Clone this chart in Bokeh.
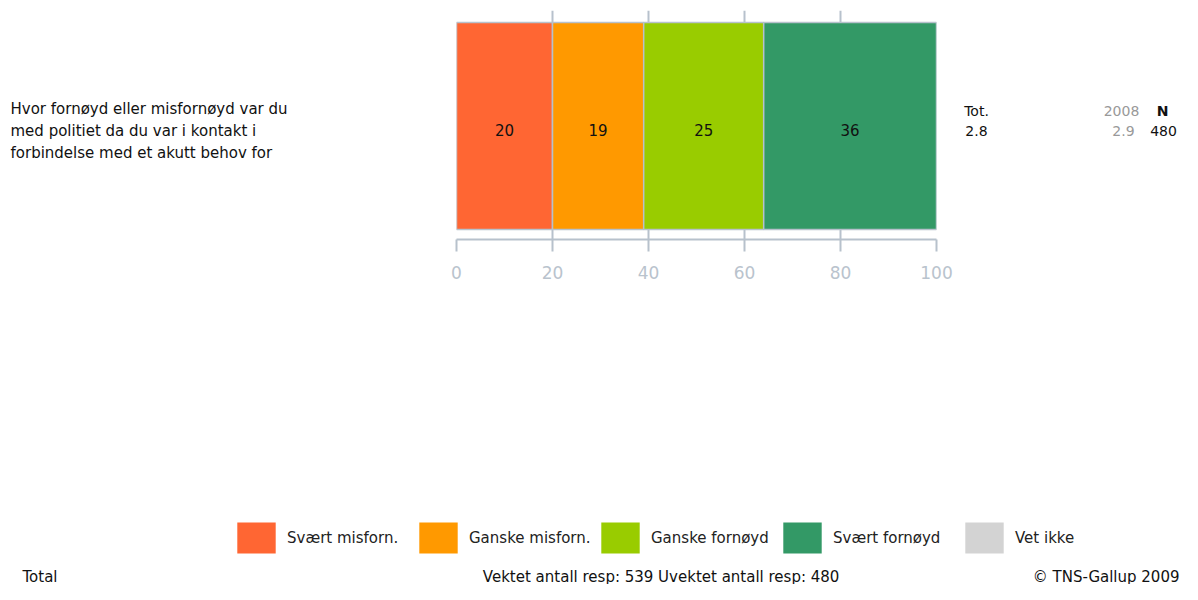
from bokeh.plotting import figure
from bokeh.models import Range1d, Legend, LegendItem, FixedTicker
from bokeh.layouts import row, column
from bokeh.core.properties import value
from bokeh.embed import file_html
from bokeh.resources import INLINE

# ---- data ----
categories = ["Svært misforn.", "Ganske misforn.", "Ganske fornøyd", "Svært fornøyd", "Vet ikke"]
values = [20, 19, 25, 36, 0]
colors = ["#FF6633", "#FF9900", "#99CC00", "#339966", "#D3D3D3"]
question_lines = ["Hvor fornøyd eller misfornøyd var du",
                  "med politiet da du var i kontakt i",
                  "forbindelse med et akutt behov for"]
x_ticks = [0, 20, 40, 60, 80, 100]
tot_header, tot_value = "Tot.", "2.8"
prev_header, prev_value = "2008", "2.9"
n_header, n_value = "N", "480"
footer_left = "Total"
footer_center = "Vektet antall resp: 539  Uvektet antall resp: 480"
footer_right = "© TNS-Gallup 2009"

# ---- layout constants (pixels) ----
W, H = 1182, 584
TOP_H = 290
FONT = "DejaVu Sans"
AXIS_COLOR = "#B7C1CC"
Q_W = 446                 # question panel width
CH_L, CH_R = 10, 20       # chart side borders
FRAME_W = 480
FRAME_TOP, FRAME_BOT = 10, 239
BAR_TOP, BAR_BOT = 22, 229
CH_W = CH_L + FRAME_W + CH_R
ST_X0 = Q_W + CH_W
N_SHIFT = -10             # N column nudged left to fit the canvas


def text_panel(x0, x1, y0, y1):
    f = figure(width=int(x1 - x0), height=int(y1 - y0), output_backend="svg",
               toolbar_location=None, x_range=Range1d(x0, x1), y_range=Range1d(y1, y0),
               x_axis_location=None, y_axis_location=None, title=None,
               min_border=0, min_border_left=0, min_border_right=0,
               min_border_top=0, min_border_bottom=0, frame_align=False)
    f.outline_line_color = None
    f.grid.visible = False
    f.background_fill_color = "white"
    f.border_fill_color = "white"
    return f


def put(f, txt, x, y, align="left", color="#111111", size="15px", style="normal"):
    f.text(x=[x], y=[y], text=[txt], text_align=align, text_baseline="middle",
           text_color=color, text_font=value(FONT), text_font_size=size,
           text_font_style=style)


# ---- question panel ----
fq = text_panel(0, Q_W, 0, TOP_H)
for i, line in enumerate(question_lines):
    put(fq, line, 10, 108.5 + i * 22)

# ---- chart ----
bar_px = BAR_BOT - BAR_TOP
lo = -(FRAME_BOT - BAR_BOT) / bar_px
hi = 1 + (BAR_TOP - FRAME_TOP) / bar_px
p = figure(width=CH_W, height=TOP_H, output_backend="svg", toolbar_location=None,
           x_range=Range1d(0, 100), y_range=Range1d(lo, hi),
           y_axis_location=None, title=None, frame_align=False,
           min_border_left=CH_L, min_border_right=CH_R,
           min_border_top=FRAME_TOP, min_border_bottom=TOP_H - FRAME_BOT)
p.outline_line_color = None
p.background_fill_color = "white"
p.border_fill_color = "white"
p.ygrid.visible = False
p.xgrid.ticker = FixedTicker(ticks=x_ticks)
p.xgrid.grid_line_color = AXIS_COLOR
p.xgrid.grid_line_width = 2
ax = p.xaxis[0]
ax.ticker = FixedTicker(ticks=x_ticks)
ax.major_tick_in = 0
ax.major_tick_out = 12
ax.minor_tick_line_color = None
ax.axis_line_color = AXIS_COLOR
ax.axis_line_width = 2
ax.major_tick_line_color = AXIS_COLOR
ax.major_tick_line_width = 2
ax.major_label_text_color = "#B9C3CD"
ax.major_label_text_font = FONT
ax.major_label_text_font_size = "17px"
ax.major_label_standoff = 14

lefts, rights = [], []
acc = 0
for v in values:
    lefts.append(acc)
    acc += v
    rights.append(acc)

for v, l, r, c in zip(values, lefts, rights, colors):
    if v > 0:
        p.hbar(y=[0.5], left=[l], right=[r], height=1.0, fill_color=c,
               line_color=AXIS_COLOR, line_width=1.5)

mids = [(l + r) / 2 for l, r, v in zip(lefts, rights, values) if v > 0]
labs = [str(v) for v in values if v > 0]
p.text(x=mids, y=[0.5] * len(mids), text=labs, text_align="center",
       text_baseline="middle", y_offset=4, text_font=value(FONT),
       text_font_size="15px", text_color="#111111")

# ---- stats panel ----
fs = text_panel(ST_X0, W, 0, TOP_H)
put(fs, tot_header, 976, 110, align="center", size="14px")
put(fs, tot_value, 976, 130, align="center", size="14px")
put(fs, prev_header, 1121, 110, align="center", color="#999999", size="14px")
put(fs, prev_value, 1123, 130, align="center", color="#999999", size="14px")
put(fs, n_header, 1172 + N_SHIFT, 110, align="center", size="14px", style="bold")
put(fs, n_value, 1173 + N_SHIFT, 130, align="center", size="14px")

# ---- bottom panel: legend + footer ----
fb = text_panel(0, W, TOP_H, H)
renderers = []
for c in colors:
    # zero-area swatch sources for the legend
    rr = fb.hbar(y=[400], left=[0], right=[0], height=0, fill_color=c,
                 line_color=None)
    renderers.append(rr)
items = [LegendItem(label=cat, renderers=[r]) for cat, r in zip(categories, renderers)]
legend = Legend(items=items, orientation="horizontal",
                location=(232, 27),
                glyph_width=48, glyph_height=39, label_standoff=7,
                label_width=127, spacing=0, padding=0, margin=0,
                border_line_color=None, background_fill_alpha=0,
                label_text_font=FONT, label_text_font_size="15px",
                label_text_color="#222222")
fb.add_layout(legend, "center")

put(fb, footer_left, 22, 576)
put(fb, footer_center, 663, 576, align="center")
put(fb, footer_right, 1179, 576, align="right")

layout = column(row(fq, p, fs), fb)
open("out.html", "w").write(file_html(layout, INLINE))
